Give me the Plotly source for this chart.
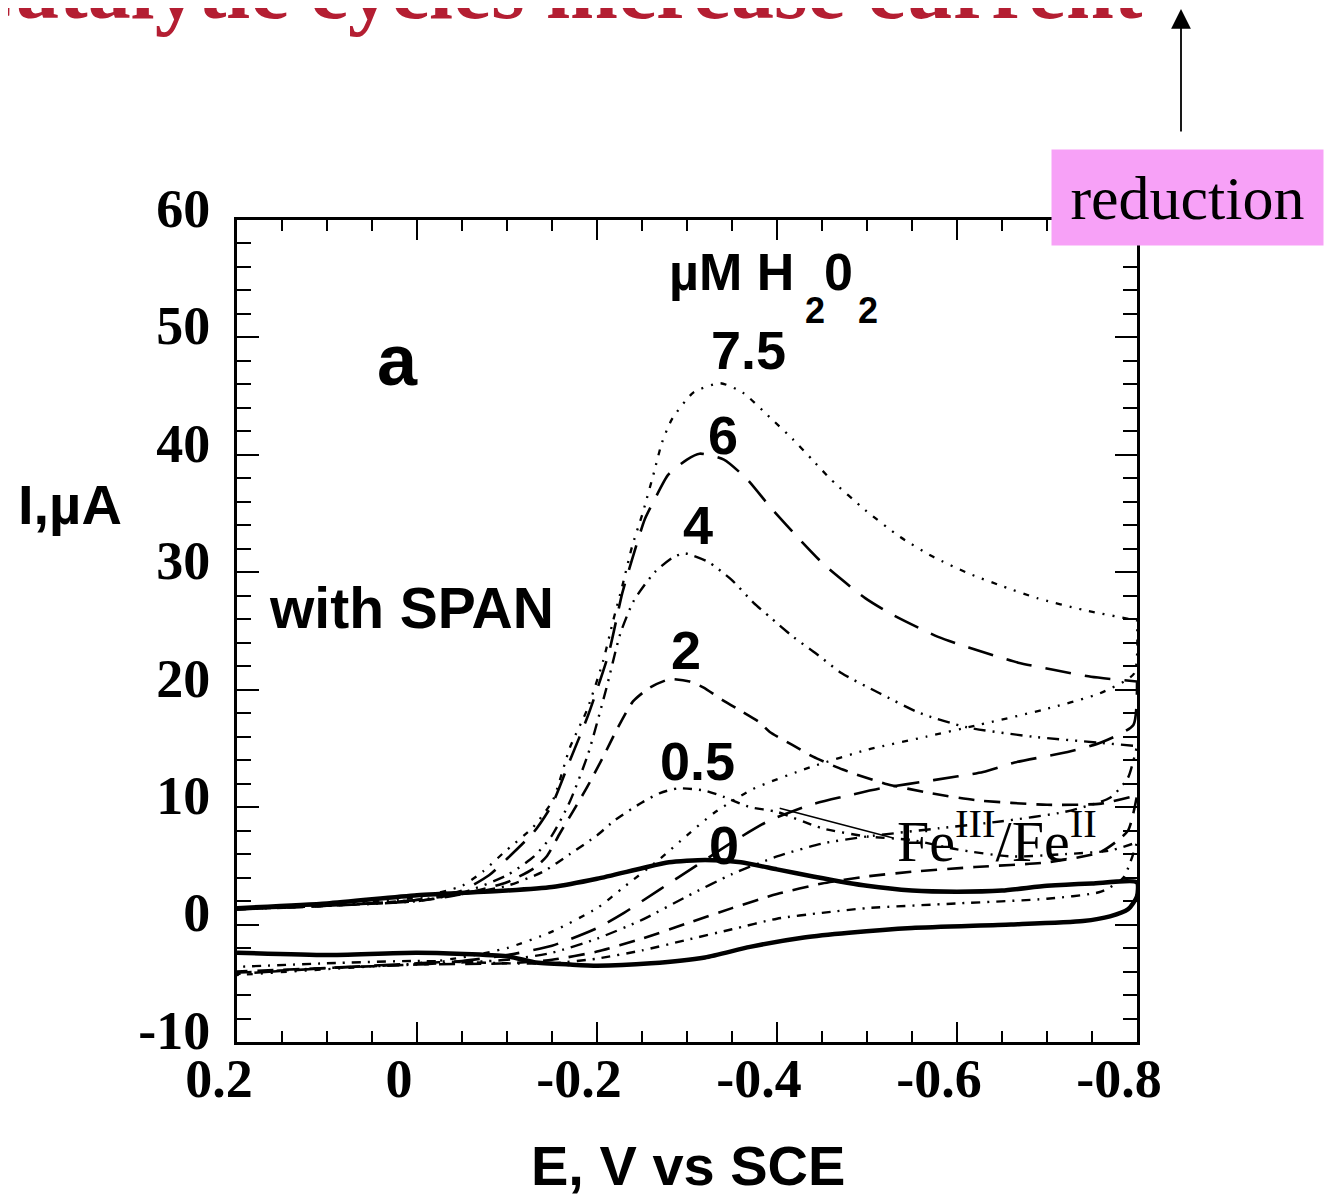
import plotly.graph_objects as go

# ---------------- data (E in V vs SCE, I in µA) ----------------
# 0 µM H2O2 (solid)
E0_fwd = [0.2, 0.1, 0.0, -0.1, -0.15, -0.2, -0.25, -0.28, -0.32, -0.36, -0.4, -0.44, -0.5, -0.55, -0.6, -0.65, -0.7, -0.75, -0.8]
I0_fwd = [1.4, 1.8, 2.5, 2.9, 3.2, 3.9, 4.8, 5.3, 5.5, 5.3, 4.7, 4.1, 3.3, 2.9, 2.8, 2.9, 3.3, 3.5, 3.6]
E0_rev = [-0.8, -0.79, -0.77, -0.74, -0.66, -0.55, -0.48, -0.43, -0.37, -0.32, -0.26, -0.2, -0.17, -0.13, -0.1, 0.0, 0.1, 0.2]
I0_rev = [2.4, 1.3, 0.7, 0.3, 0.0, -0.3, -0.7, -1.1, -1.9, -2.8, -3.3, -3.5, -3.4, -3.2, -2.7, -2.4, -2.6, -2.4]

# 0.5 µM
E05_fwd = [0.2, 0.1, 0.0, -0.05, -0.1, -0.14, -0.17, -0.2, -0.22, -0.25, -0.27, -0.29, -0.32, -0.34, -0.37, -0.4, -0.45, -0.5, -0.55, -0.6, -0.66, -0.72, -0.77, -0.8]
I05_fwd = [1.3, 1.6, 2.1, 2.6, 3.3, 4.5, 6.0, 7.6, 8.9, 10.4, 11.2, 11.6, 11.4, 10.9, 10.0, 9.6, 8.2, 7.5, 7.2, 6.4, 5.8, 6.0, 6.3, 7.0]
E05_rev = [-0.8, -0.785, -0.76, -0.7, -0.6, -0.5, -0.45, -0.4, -0.35, -0.3, -0.25, -0.2, -0.15, -0.1, 0.0, 0.1, 0.2]
I05_rev = [7.0, 4.0, 2.8, 2.2, 1.8, 1.4, 1.0, 0.5, -0.4, -1.3, -2.2, -2.9, -3.3, -3.3, -3.1, -3.3, -3.6]

# 2 µM
E2_fwd = [0.2, 0.1, 0.0, -0.05, -0.1, -0.13, -0.144, -0.159, -0.173, -0.189, -0.207, -0.222, -0.24, -0.259, -0.281, -0.303, -0.318, -0.34, -0.362, -0.381, -0.392, -0.417, -0.44, -0.473, -0.52, -0.57, -0.62, -0.7, -0.76, -0.8]
I2_fwd = [1.3, 1.6, 2.0, 2.6, 3.6, 4.8, 5.8, 7.8, 9.6, 11.7, 14.3, 16.6, 19.0, 20.2, 20.9, 20.7, 20.2, 19.1, 18.1, 17.2, 16.4, 15.3, 14.3, 13.2, 12.0, 11.2, 10.6, 10.2, 10.3, 11.0]
E2_rev = [-0.8, -0.79, -0.76, -0.7, -0.62, -0.55, -0.5, -0.45, -0.4, -0.35, -0.3, -0.25, -0.2, -0.15, -0.1, 0.0, 0.1, 0.2]
I2_rev = [11.0, 8.0, 6.2, 5.3, 4.9, 4.5, 4.1, 3.5, 2.6, 1.4, 0.1, -1.2, -2.3, -3.0, -3.3, -3.4, -3.7, -4.0]

# 4 µM
E4_fwd = [0.2, 0.1, 0.0, -0.05, -0.1, -0.13, -0.15, -0.17, -0.19, -0.21, -0.226, -0.241, -0.264, -0.285, -0.298, -0.323, -0.349, -0.374, -0.392, -0.418, -0.443, -0.472, -0.514, -0.559, -0.611, -0.684, -0.756, -0.8]
I4_fwd = [1.3, 1.6, 2.0, 2.7, 4.2, 5.8, 7.6, 10.5, 14.5, 20.0, 24.8, 27.6, 30.0, 31.3, 31.6, 30.9, 29.4, 27.4, 26.2, 24.5, 23.1, 21.4, 19.7, 18.0, 16.8, 16.0, 15.5, 15.2]
E4_rev = [-0.8, -0.79, -0.77, -0.72, -0.65, -0.58, -0.5, -0.45, -0.4, -0.35, -0.3, -0.25, -0.2, -0.15, -0.1, 0.0, 0.1, 0.2]
I4_rev = [15.2, 12.5, 10.8, 9.6, 8.8, 8.2, 7.5, 6.9, 5.8, 4.3, 2.4, 0.4, -1.2, -2.4, -3.0, -3.4, -3.7, -4.1]

# 6 µM
E6_fwd = [0.2, 0.1, 0.0, -0.05, -0.08, -0.1, -0.13, -0.15, -0.17, -0.19, -0.213, -0.228, -0.239, -0.253, -0.264, -0.279, -0.3, -0.314, -0.341, -0.367, -0.392, -0.43, -0.453, -0.498, -0.528, -0.579, -0.613, -0.668, -0.707, -0.749, -0.8]
I6_fwd = [1.3, 1.6, 2.1, 2.9, 4.2, 5.6, 7.9, 10.2, 14.0, 17.8, 23.1, 28.2, 31.1, 34.5, 36.2, 38.3, 39.6, 40.1, 39.6, 37.9, 35.6, 32.4, 30.6, 27.8, 26.4, 24.5, 23.6, 22.3, 21.7, 21.1, 20.7]
E6_rev = [-0.8, -0.796, -0.76, -0.723, -0.664, -0.629, -0.574, -0.515, -0.474, -0.437, -0.39, -0.35, -0.31, -0.27, -0.23, -0.2, -0.15, -0.1, -0.05, 0.0, 0.1, 0.2]
I6_rev = [20.7, 17.0, 15.5, 14.7, 13.8, 13.0, 12.3, 11.6, 10.9, 10.2, 8.8, 7.0, 5.0, 3.0, 1.0, -0.3, -1.8, -2.6, -3.1, -3.3, -3.7, -4.2]

# 7.5 µM
E75_fwd = [0.2, 0.1, 0.0, -0.05, -0.073, -0.096, -0.129, -0.151, -0.17, -0.189, -0.207, -0.218, -0.228, -0.239, -0.251, -0.264, -0.272, -0.283, -0.307, -0.337, -0.362, -0.392, -0.418, -0.439, -0.46, -0.498, -0.537, -0.574, -0.613, -0.651, -0.689, -0.74, -0.8]
I75_fwd = [1.4, 1.7, 2.3, 3.3, 4.5, 6.1, 8.3, 10.6, 15.1, 18.3, 22.5, 25.9, 28.8, 32.2, 35.1, 38.7, 41.0, 43.0, 45.3, 46.1, 45.3, 43.2, 41.3, 39.6, 37.9, 35.3, 33.0, 31.3, 29.9, 28.8, 27.8, 26.8, 25.9]
E75_rev = [-0.8, -0.797, -0.759, -0.696, -0.624, -0.566, -0.501, -0.437, -0.372, -0.33, -0.3, -0.27, -0.23, -0.2, -0.15, -0.1, -0.05, 0.0, 0.1, 0.2]
I75_rev = [25.9, 21.4, 19.7, 18.3, 17.0, 16.0, 14.9, 13.4, 11.5, 9.5, 7.6, 5.6, 3.2, 1.4, -0.6, -2.0, -2.8, -3.3, -3.8, -4.3]

x_tickvals = [0.2, 0.0, -0.2, -0.4, -0.6, -0.8]
x_ticktext = ["0.2", "0", "-0.2", "-0.4", "-0.6", "-0.8"]
y_tickvals = [-10, 0, 10, 20, 30, 40, 50, 60]
y_ticktext = ["-10", "0", "10", "20", "30", "40", "50", "60"]

conc_labels = ["7.5", "6", "4", "2", "0.5", "0"]
conc_label_E = [-0.368, -0.340, -0.312, -0.299, -0.312, -0.341]
conc_label_I = [48.9, 41.7, 34.0, 23.4, 13.9, 6.8]

# ---------------- figure ----------------
fig = go.Figure()

curves = [
    (E75_fwd + E75_rev, I75_fwd + I75_rev, "7.5", dict(width=2.3, dash="6px,8px,2px,8px,2px,8px")),
    (E6_fwd + E6_rev, I6_fwd + I6_rev, "6", dict(width=2.6, dash="26px,14px")),
    (E4_fwd + E4_rev, I4_fwd + I4_rev, "4", dict(width=2.4, dash="12px,7px,2px,7px,2px,7px")),
    (E2_fwd + E2_rev, I2_fwd + I2_rev, "2", dict(width=2.6, dash="16px,10px")),
    (E05_fwd + E05_rev, I05_fwd + I05_rev, "0.5", dict(width=2.4, dash="9px,7px,2px,7px")),
    (E0_fwd + E0_rev, I0_fwd + I0_rev, "0", dict(width=4.5, dash="solid")),
]
for xs, ys, name, ln in curves:
    fig.add_trace(go.Scatter(
        x=xs, y=ys, mode="lines", name=name,
        line=dict(color="black", shape="spline", smoothing=0.6, **ln),
        showlegend=False, hoverinfo="skip"))

arial_b = dict(family="Liberation Sans, Arial", color="black", weight="bold")
serif = dict(family="Liberation Serif, Times New Roman", color="black")

C = dict(xanchor="center", yanchor="middle")

ann = []
for t, xe, yi in zip(conc_labels, conc_label_E, conc_label_I):
    ann.append(dict(x=xe, y=yi, xref="x", yref="y", text=t, showarrow=False,
                    font=dict(size=54, **arial_b), **C))
ann += [
    dict(x=0.0222, y=48.1, xref="x", yref="y", text="a", showarrow=False,
         font=dict(size=72, **arial_b), **C),
    dict(x=0.0056, y=27.0, xref="x", yref="y", text="with SPAN", showarrow=False,
         font=dict(size=57, **arial_b), **C),
    dict(x=-0.421, y=55.6, xref="x", yref="y", text="µM H", showarrow=False,
         xanchor="right", yanchor="middle", font=dict(size=52, **arial_b)),
    dict(x=-0.468, y=55.6, xref="x", yref="y", text="0", showarrow=False,
         font=dict(size=52, **arial_b), **C),
    dict(x=-0.442, y=52.3, xref="x", yref="y", text="2", showarrow=False,
         font=dict(size=36, **arial_b), **C),
    dict(x=-0.501, y=52.3, xref="x", yref="y", text="2", showarrow=False,
         font=dict(size=36, **arial_b), **C),
    # Fe label and pointer
    dict(x=-0.531, y=7.4, xref="x", yref="y", text="Fe<sup>III</sup>/Fe<sup>II</sup>",
         showarrow=False, xanchor="left", yanchor="middle", font=dict(size=58, **serif)),
    dict(x=-0.403, y=9.9, xref="x", yref="y", text="", showarrow=True,
         ax=115, ay=30, arrowhead=0, arrowwidth=1.5, arrowcolor="black"),
    # axis titles
    dict(x=(70 - 237) / 900, y=(1042 - 505) / 822, xref="paper", yref="paper",
         text="I,µA", showarrow=False, font=dict(size=56, **arial_b), **C),
    dict(x=(688 - 237) / 900, y=(1042 - 1165) / 822, xref="paper", yref="paper",
         text="E, V vs SCE", showarrow=False, font=dict(size=56, **arial_b), **C),
    # cut-off title
    dict(x=(548 - 237) / 900, y=(1042 + 11) / 822, xref="paper", yref="paper",
         text="Catalytic cycles increase current", showarrow=False,
         font=dict(size=86, family="Liberation Serif, Times New Roman",
                   color="#B41E32", weight="bold"), **C),
    # reduction box
    dict(x=(1187.5 - 237) / 900, y=(1042 - 197.5) / 822, xref="paper", yref="paper",
         text="reduction", showarrow=False, bgcolor="#F7A1F7", borderpad=0,
         width=271, height=95, font=dict(size=62, **serif), **C),
    # arrow
    dict(x=(1181 - 237) / 900, y=(1042 - 8) / 822, xref="paper", yref="paper",
         text="", showarrow=True, ax=0, ay=125, arrowhead=2, arrowsize=2.2,
         arrowwidth=1.8, arrowcolor="black"),
]

tickfont = dict(family="Liberation Serif, Times New Roman", size=54, color="black", weight="bold")

fig.update_layout(
    width=1325, height=1190, autosize=False,
    margin=dict(l=229, r=196, t=212, b=156, pad=0),
    paper_bgcolor="white", plot_bgcolor="white",
    annotations=ann,
    xaxis=dict(range=[0.2, -0.8], tickmode="array", tickvals=x_tickvals, ticktext=x_ticktext,
               ticks="inside", ticklen=20, tickwidth=2, tickcolor="black",
               minor=dict(tickmode="linear", tick0=0, dtick=0.05, ticks="inside",
                          ticklen=11, tickwidth=2, tickcolor="black"),
               showline=True, linecolor="black", linewidth=3, mirror="ticks",
               showgrid=False, zeroline=False, tickfont=tickfont,
               ticklabelstandoff=-13, ticklabelshift=18),
    yaxis=dict(range=[-10, 60], tickmode="array", tickvals=y_tickvals, ticktext=y_ticktext,
               ticks="inside", ticklen=22, tickwidth=2, tickcolor="black",
               minor=dict(tickmode="linear", tick0=0, dtick=2, ticks="inside",
                          ticklen=14, tickwidth=2, tickcolor="black"),
               showline=True, linecolor="black", linewidth=3, mirror="ticks",
               showgrid=False, zeroline=False, tickfont=tickfont,
               ticklabelstandoff=13, ticklabelshift=-12),
)

fig.write_html("out.html")
